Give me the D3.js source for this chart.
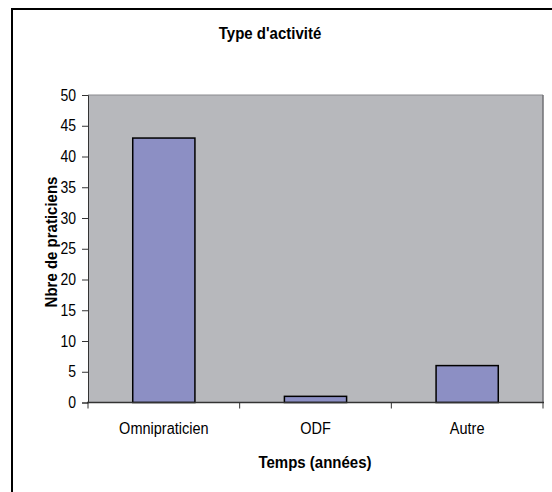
<!DOCTYPE html>
<head>
  <meta charset="UTF-8">
  <script src="https://d3js.org/d3.v7.min.js"></script>
</head>
<body style="margin:0;background:#fff">
  <svg id="chart"></svg>
</body>
<style>
  text { font-family: 'Liberation Sans', Arial, sans-serif; fill: #000; }
  .tick text { font-size: 14px; }
  .ttl { font-weight: bold; }
</style>
<script type="text/javascript">
  // data
  const categories = ['Omnipraticien', 'ODF', 'Autre'];
  const values = [43, 1, 6];
  const yTicks = [0, 5, 10, 15, 20, 25, 30, 35, 40, 45, 50];

  const width = 552, height = 492;
  const plot = { left: 88, right: 543, top: 95, bottom: 402.5 };
  const stretch = 1.13; // text in the original looks a bit tall/narrow

  const svg = d3.select('#chart')
    .attr('width', width)
    .attr('height', height);

  // outer frame (right/bottom fall outside the view)
  svg.append('rect')
    .attr('x', 12).attr('y', 9)
    .attr('width', 700).attr('height', 700)
    .attr('fill', 'none')
    .attr('stroke', '#000')
    .attr('stroke-width', 2);

  const x = d3.scaleBand()
    .domain(categories)
    .range([plot.left, plot.right])
    .paddingInner(0.59)
    .paddingOuter(0.295);

  const y = d3.scaleLinear()
    .domain([0, 50])
    .range([plot.bottom, plot.top]);

  // plot area
  svg.append('rect')
    .attr('x', plot.left).attr('y', plot.top)
    .attr('width', plot.right - plot.left)
    .attr('height', plot.bottom - plot.top)
    .attr('fill', '#b7b8bc');
  svg.append('line')
    .attr('x1', plot.left).attr('x2', plot.right)
    .attr('y1', plot.top).attr('y2', plot.top)
    .attr('stroke', '#8a8a8e').attr('stroke-width', 1);
  svg.append('line')
    .attr('x1', plot.right).attr('x2', plot.right)
    .attr('y1', plot.top).attr('y2', plot.bottom)
    .attr('stroke', '#707074').attr('stroke-width', 1.5);

  // bars
  svg.append('g')
    .selectAll('rect')
    .data(values)
    .join('rect')
    .attr('x', (d, i) => x(categories[i]))
    .attr('y', d => y(d))
    .attr('width', x.bandwidth())
    .attr('height', d => y(0) - y(d))
    .attr('fill', '#8c8fc4')
    .attr('stroke', '#000')
    .attr('stroke-width', 1.5);

  // y axis
  const yAxis = svg.append('g')
    .attr('transform', `translate(${plot.left},0)`)
    .call(d3.axisLeft(y).tickValues(yTicks).tickSize(6).tickPadding(6));
  yAxis.selectAll('line').attr('stroke', '#333');
  yAxis.select('.domain').attr('stroke', '#333');
  yAxis.selectAll('.tick text').attr('transform', `scale(1,${stretch})`);

  // x axis with ticks at band edges
  const xAxisG = svg.append('g');
  xAxisG.append('line')
    .attr('x1', plot.left - 1).attr('x2', plot.right + 1)
    .attr('y1', plot.bottom).attr('y2', plot.bottom)
    .attr('stroke', '#333').attr('stroke-width', 1.5);
  const edges = categories.map(c => x(c) - x.step() * x.paddingInner() / 2).concat([plot.right]);
  xAxisG.selectAll('.xt')
    .data(edges)
    .join('line')
    .attr('class', 'xt')
    .attr('x1', d => d).attr('x2', d => d)
    .attr('y1', plot.bottom).attr('y2', plot.bottom + 6)
    .attr('stroke', '#333');
  xAxisG.selectAll('.xl')
    .data(categories)
    .join('text')
    .attr('class', 'xl')
    .attr('transform', d => `translate(${x(d) + x.bandwidth() / 2},434) scale(1,${stretch})`)
    .attr('text-anchor', 'middle')
    .style('font-size', '14.5px')
    .text(d => d);

  // titles
  svg.append('text')
    .attr('class', 'ttl')
    .attr('transform', `translate(270,39) scale(1,${stretch})`)
    .attr('text-anchor', 'middle')
    .style('font-size', '15px')
    .text("Type d'activité");

  svg.append('text')
    .attr('class', 'ttl')
    .attr('transform', `translate(315,468) scale(1,${stretch})`)
    .attr('text-anchor', 'middle')
    .style('font-size', '15px')
    .text('Temps (années)');

  svg.append('text')
    .attr('class', 'ttl')
    .attr('transform', `translate(57,242) rotate(-90) scale(1,${stretch})`)
    .attr('text-anchor', 'middle')
    .style('font-size', '15px')
    .text('Nbre de praticiens');
</script>
